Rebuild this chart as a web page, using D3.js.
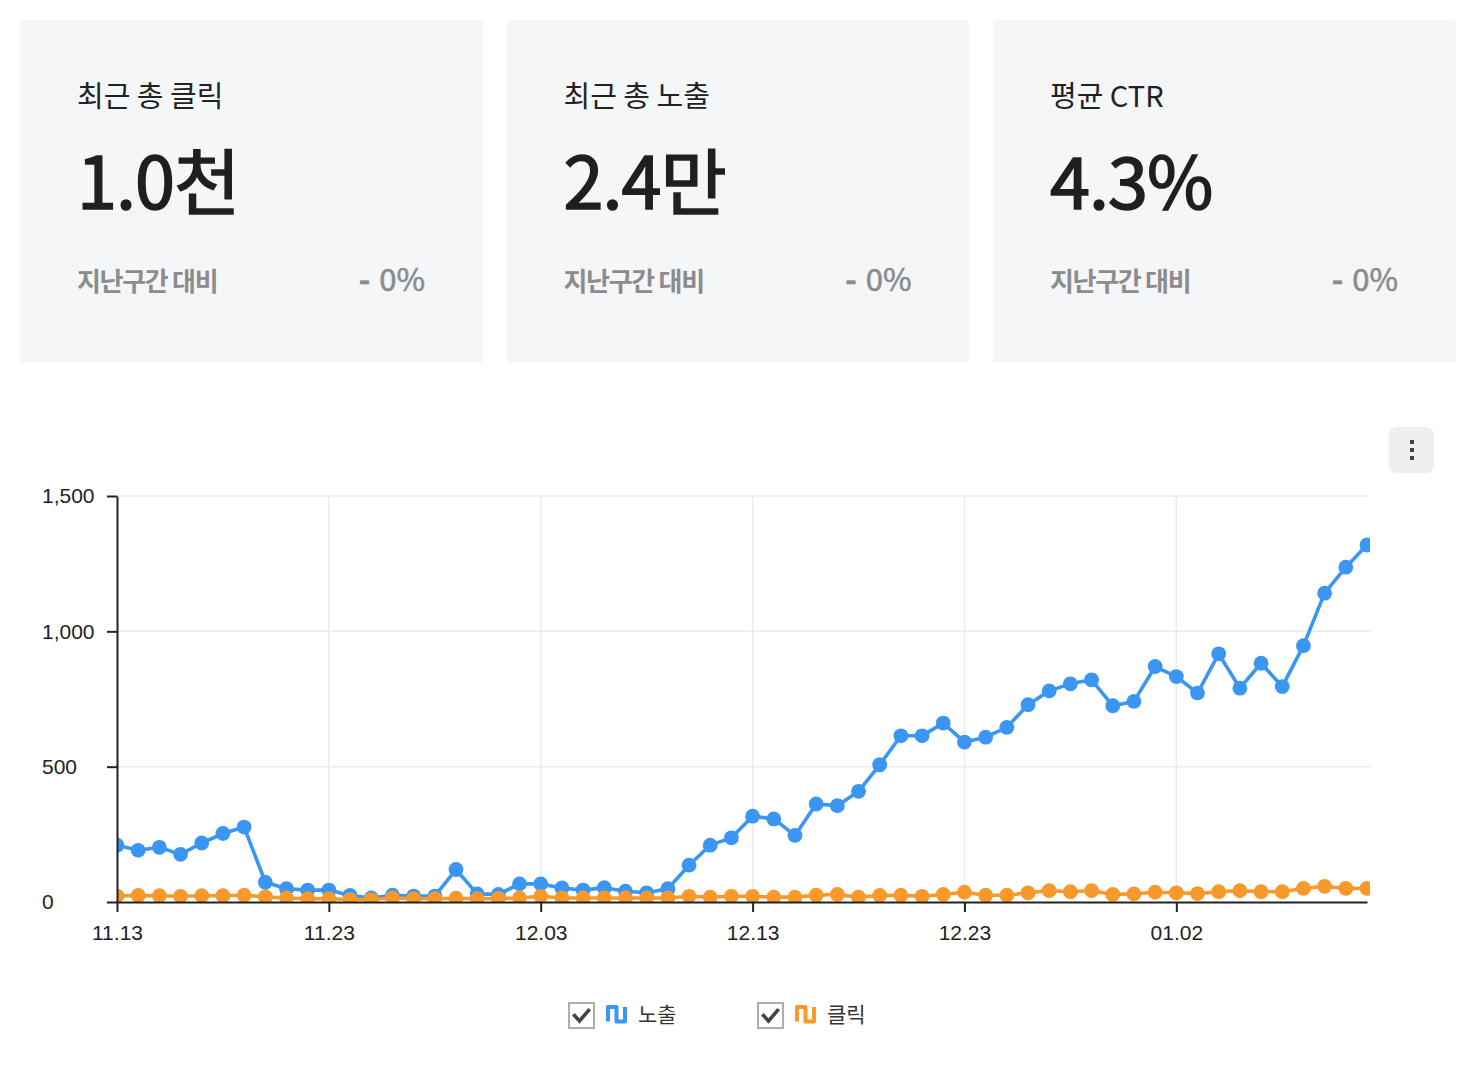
<!DOCTYPE html>
<html><head><meta charset="utf-8">
<script src="https://cdn.jsdelivr.net/npm/d3@7"></script>
<style>
html,body{margin:0;padding:0;background:#fff;}
svg{display:block;}
</style></head><body>
<svg id="chart" width="1474" height="1074"></svg>
<script>
// ---- data ----
const cardTitles = ["최근 총 클릭", "최근 총 노출", "평균 CTR"];
const cardValues = ["1.0천", "2.4만", "4.3%"];
const cardCompareLabels = ["지난구간 대비", "지난구간 대비", "지난구간 대비"];
const cardChangeSigns = ["-", "-", "-"];
const cardChanges = ["0%", "0%", "0%"];

const startDate = new Date(2023, 10, 13);
const endDate = new Date(2024, 0, 12);
const dates = d3.timeDay.range(startDate, endDate); // 11.13 .. 01.11 (60 days)

const impressions = [
  210,191,202,176,218,253,277,73,49,44,
  44,24,15,25,22,22,120,30,28,67,
  67,52,44,53,40,34,49,136,210,237,
  317,307,246,362,356,409,507,614,614,661,
  591,609,645,729,780,806,821,725,741,870,
  833,772,917,790,882,796,947,1141,1237,1319
];
const clicks = [
  22,24,23,21,23,23,25,19,15,12,
  12,9,9,15,12,12,14,12,13,15,
  21,15,15,15,15,15,15,21,18,21,
  21,18,18,25,28,18,24,25,21,28,
  36,25,25,34,42,38,42,28,30,36,
  34,31,38,42,38,38,50,58,50,50
];
const seriesNames = ["노출", "클릭"];
const xTickLabels = ["11.13", "11.23", "12.03", "12.13", "12.23", "01.02"];
const yTickValues = [0, 500, 1000, 1500];

// ---- styles ----
const COLORS = ["#3b96f3", "#f9982b"];
const KFONT = "'Noto Sans CJK KR','Noto Sans',sans-serif";
const AFONT = "'Liberation Sans',Arial,sans-serif";

const svg = d3.select("#chart");

// ---- cards ----
const cards = svg.selectAll("g.card").data(cardTitles).join("g")
  .attr("class", "card")
  .attr("transform", (d, i) => `translate(${20 + i * 486.5},20)`);
cards.append("rect").attr("width", 463).attr("height", 343).attr("rx", 4).attr("fill", "#f5f6f8");
cards.append("text").attr("x", 57).attr("y", 87).text(d => d)
  .attr("font-family", KFONT).attr("font-size", 29).attr("fill", "#222");
cards.append("text").attr("x", 57).attr("y", 189).text((d, i) => cardValues[i])
  .attr("font-family", KFONT).attr("font-size", 72).attr("font-weight", 400)
  .attr("letter-spacing", -1).attr("fill", "#1f1f1f")
  .attr("stroke", "#1f1f1f").attr("stroke-width", 1.6);
cards.append("text").attr("x", 57).attr("y", 271).text((d, i) => cardCompareLabels[i])
  .attr("font-family", KFONT).attr("font-size", 26).attr("font-weight", 700)
  .attr("letter-spacing", -1.3).attr("fill", "#8c8c8c");
const chg = cards.append("text").attr("x", 405).attr("y", 271).attr("text-anchor", "end")
  .attr("font-family", KFONT).attr("font-size", 31).attr("font-weight", 400)
  .attr("fill", "#8c8c8c").attr("stroke", "#8c8c8c").attr("stroke-width", 0.6);
chg.append("tspan").text((d, i) => cardChangeSigns[i]).attr("font-weight", 700);
chg.append("tspan").attr("dx", 9).text((d, i) => cardChanges[i]);

// ---- menu button ----
svg.append("rect").attr("x", 1389).attr("y", 427).attr("width", 45).attr("height", 46).attr("rx", 8).attr("fill", "#efefef");
svg.selectAll("rect.dot3").data([0, 1, 2]).join("rect").attr("class", "dot3")
  .attr("x", 1410).attr("y", d => 440 + d * 8).attr("width", 4).attr("height", 4).attr("fill", "#444");

// ---- chart ----
const x = d3.scaleTime().domain([dates[0], dates[dates.length - 1]]).range([117, 1367]);
const y = d3.scaleLinear().domain([0, 1500]).range([902, 496]);
const fmt = d3.timeFormat("%m.%d");
const tickDates = dates.filter(d => xTickLabels.includes(fmt(d)));

const grid = svg.append("g").attr("stroke", "#ebebeb").attr("stroke-width", 1.5);
grid.selectAll("line.h").data(yTickValues.filter(v => v > 0)).join("line").attr("class", "h")
  .attr("x1", 117).attr("x2", 1370).attr("y1", d => y(d)).attr("y2", d => y(d));
grid.selectAll("line.v").data(tickDates.slice(1)).join("line").attr("class", "v")
  .attr("x1", d => x(d)).attr("x2", d => x(d)).attr("y1", 496).attr("y2", 902);

svg.append("clipPath").attr("id", "plotclip").append("rect")
  .attr("x", 117).attr("y", 470).attr("width", 1253).attr("height", 432);

const plot = svg.append("g").attr("clip-path", "url(#plotclip)");
const seriesData = [impressions, clicks];
seriesData.forEach((vals, si) => {
  const pts = vals.map((v, i) => [dates[i], v]);
  plot.append("path").datum(pts)
    .attr("fill", "none").attr("stroke", COLORS[si]).attr("stroke-width", 3.6)
    .attr("stroke-linejoin", "round")
    .attr("d", d3.line().x(d => x(d[0])).y(d => y(d[1])));
  plot.append("g").selectAll("circle").data(pts).join("circle")
    .attr("cx", d => x(d[0])).attr("cy", d => y(d[1])).attr("r", 7.4).attr("fill", COLORS[si]);
});

// axes
const xAxis = svg.append("g").attr("transform", "translate(0,902)")
  .call(d3.axisBottom(x).tickValues(tickDates).tickFormat(fmt).tickSize(10).tickSizeOuter(0).tickPadding(13));
const yAxis = svg.append("g").attr("transform", "translate(117,0)")
  .call(d3.axisLeft(y).tickValues(yTickValues).tickFormat(d3.format(",")).tickSize(10).tickSizeOuter(0));
[xAxis, yAxis].forEach(a => {
  a.selectAll("path.domain").attr("stroke", "#222").attr("stroke-width", 2);
  a.selectAll(".tick line").attr("stroke", "#222").attr("stroke-width", 2);
  a.selectAll("text").attr("font-family", AFONT).attr("font-size", 21).attr("fill", "#222");
});
yAxis.selectAll("text").attr("x", -75).attr("text-anchor", "start");

// ---- legend ----
const legendX = [568, 757];
const leg = svg.selectAll("g.leg").data(seriesNames).join("g").attr("class", "leg")
  .attr("transform", (d, i) => `translate(${legendX[i]},1002)`);
leg.append("rect").attr("x", 1).attr("y", 1).attr("width", 25).attr("height", 25)
  .attr("fill", "#fff").attr("stroke", "#adadad").attr("stroke-width", 2);
leg.append("path").attr("d", "M6.5,13.5 L11.5,19 L20.5,8.5")
  .attr("fill", "none").attr("stroke", "#444").attr("stroke-width", 3.6).attr("stroke-linecap", "square");
leg.append("path").attr("d", "M40,19.5 V5 H48.5 V19.5 H57 V5")
  .attr("fill", "none").attr("stroke", (d, i) => COLORS[i]).attr("stroke-width", 4).attr("stroke-linejoin", "round");
leg.append("text").attr("x", 70).attr("y", 20).text(d => d)
  .attr("font-family", KFONT).attr("font-size", 21).attr("fill", "#333");
</script>
</body></html>
